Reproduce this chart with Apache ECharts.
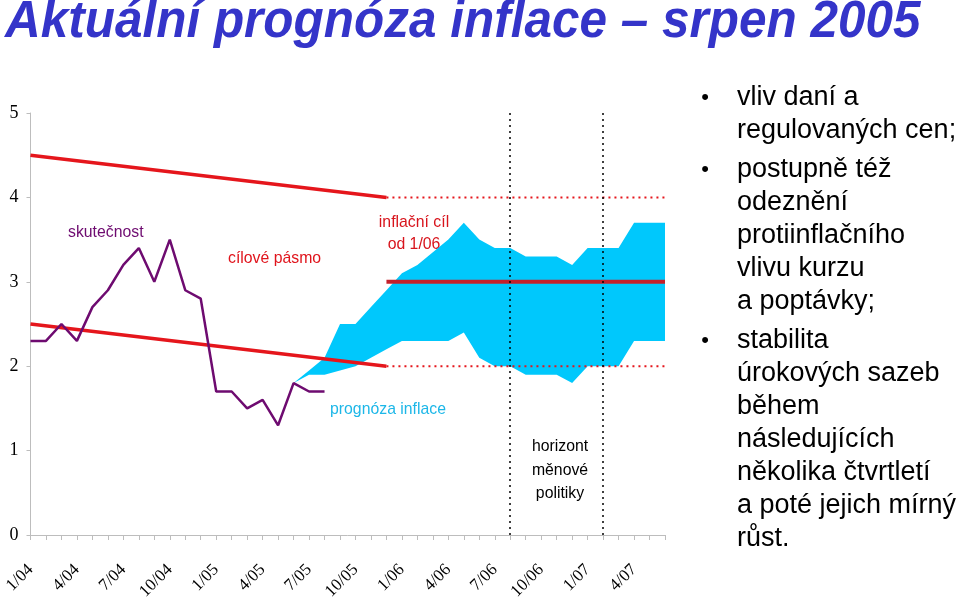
<!DOCTYPE html>
<html>
<head>
    <meta charset="UTF-8">
    <title>Aktuální prognóza inflace</title>
    <script src="https://cdn.jsdelivr.net/npm/echarts@6/dist/echarts.min.js"></script>
    <style>
        html, body { margin: 0; padding: 0; background: #fff; }
    </style>
</head>
<body>
    <div id="main" style="width: 960px; height: 599px;"></div>
    <script>
        // měsíce na ose x (1/04 .. 6/07)
        var months = [
            '1/04', '2/04', '3/04', '4/04', '5/04', '6/04', '7/04', '8/04', '9/04', '10/04', '11/04', '12/04',
            '1/05', '2/05', '3/05', '4/05', '5/05', '6/05', '7/05', '8/05', '9/05', '10/05', '11/05', '12/05',
            '1/06', '2/06', '3/06', '4/06', '5/06', '6/06', '7/06', '8/06', '9/06', '10/06', '11/06', '12/06',
            '1/07', '2/07', '3/07', '4/07', '5/07', '6/07'
        ];

        // skutečná inflace (od 1/04)
        var actual = [2.3, 2.3, 2.5, 2.3, 2.7, 2.9, 3.2, 3.4, 3.0, 3.5, 2.9, 2.8,
                      1.7, 1.7, 1.5, 1.6, 1.3, 1.8, 1.7, 1.7];

        // vějíř prognózy (od 6/05)
        var fanStart = '6/05';
        var fanLower = [1.8, 1.9, 1.9, 1.95, 2.0, 2.1, 2.2, 2.3, 2.3, 2.3, 2.3, 2.4,
                        2.1, 2.0, 2.0, 1.9, 1.9, 1.9, 1.8, 2.0, 2.0, 2.0, 2.3, 2.3, 2.3];
        var fanUpper = [1.8, 1.95, 2.1, 2.5, 2.5, 2.7, 2.9, 3.1, 3.2, 3.35, 3.5, 3.7,
                        3.5, 3.4, 3.4, 3.3, 3.3, 3.3, 3.2, 3.4, 3.4, 3.4, 3.7, 3.7, 3.7];

        // cílové pásmo a inflační cíl
        var bandUpper = [['1/04', 4.5], ['12/05', 4.0]];
        var bandLower = [['1/04', 2.5], ['12/05', 2.0]];
        var bandUpperAfter = [['12/05', 4.0], ['6/07', 4.0]];
        var bandLowerAfter = [['12/05', 2.0], ['6/07', 2.0]];
        var target = [['12/05', 3.0], ['6/07', 3.0]];

        // horizont měnové politiky
        var horizonMonths = ['8/06', '2/07'];

        // doplnění vějíře na délku osy
        var startIdx = months.indexOf(fanStart);
        var fanBase = [], fanWidth = [];
        months.forEach(function (m, i) {
            var k = i - startIdx;
            if (k >= 0 && k < fanLower.length) {
                fanBase.push(fanLower[k]);
                fanWidth.push(+(fanUpper[k] - fanLower[k]).toFixed(3));
            } else {
                fanBase.push(null);
                fanWidth.push(null);
            }
        });

        var myChart = echarts.init(document.getElementById('main'));

        var sans = 'Liberation Sans, Arial, sans-serif';
        var serif = 'Liberation Serif, Times New Roman, serif';
        var red = '#e5161c';

        // popisek v grafu (mírně zúžené písmo)
        function note(x, y, text, color, opts) {
            opts = opts || {};
            return {
                type: 'text', x: x, y: y, scaleX: 0.93,
                style: {
                    text: text, font: (opts.size || 17) + 'px ' + sans, fill: color,
                    lineHeight: opts.lineHeight || 22,
                    align: opts.align || 'left', verticalAlign: 'middle'
                }
            };
        }

        function bullet(y) {
            return { type: 'text', x: 705, y: y, style: { text: '•', font: '22px ' + sans, fill: '#000', align: 'center', verticalAlign: 'middle' } };
        }

        function para(y, text) {
            return { type: 'text', x: 737, y: y, style: { text: text, font: '27px ' + sans, lineHeight: 33, fill: '#000', verticalAlign: 'top' } };
        }

        var option = {
            animation: false,
            backgroundColor: '#fff',
            grid: { left: 30.5, right: 295, top: 113, bottom: 64, containLabel: false, outerBoundsMode: 'none' },
            xAxis: {
                type: 'category',
                data: months,
                boundaryGap: false,
                axisLine: { lineStyle: { color: '#bdbdbd', width: 1 } },
                axisTick: { show: true, interval: 0, length: 5, lineStyle: { color: '#bdbdbd' } },
                axisLabel: {
                    interval: 2,
                    rotate: 45,
                    margin: 32,
                    color: '#000',
                    fontFamily: serif,
                    fontSize: 17
                },
                splitLine: { show: false }
            },
            yAxis: {
                type: 'value',
                min: 0,
                max: 5,
                interval: 1,
                axisLine: { show: true, lineStyle: { color: '#bdbdbd', width: 1 } },
                axisTick: { show: true, length: 4, lineStyle: { color: '#bdbdbd' } },
                axisLabel: { color: '#000', fontFamily: serif, fontSize: 18, margin: 12 },
                splitLine: { show: false }
            },
            series: [
                {
                    // spodní hrana vějíře
                    type: 'line', stack: 'fan', data: fanBase,
                    symbol: 'none', lineStyle: { width: 0 }, silent: true
                },
                {
                    // šířka vějíře
                    type: 'line', stack: 'fan', data: fanWidth,
                    symbol: 'none', lineStyle: { width: 0 },
                    areaStyle: { color: '#00c8fc', opacity: 1 }, silent: true
                },
                {
                    type: 'line', data: bandUpper, symbol: 'none',
                    lineStyle: { color: red, width: 3.5 }
                },
                {
                    type: 'line', data: bandLower, symbol: 'none',
                    lineStyle: { color: red, width: 3.5 }
                },
                {
                    type: 'line', data: bandUpperAfter, symbol: 'none',
                    lineStyle: { color: red, width: 2, type: [2, 4] }
                },
                {
                    type: 'line', data: bandLowerAfter, symbol: 'none',
                    lineStyle: { color: red, width: 2, type: [2, 4] }
                },
                {
                    type: 'line', data: target, symbol: 'none',
                    lineStyle: { color: '#c4202b', width: 4 },
                    markLine: {
                        silent: true,
                        symbol: 'none',
                        label: { show: false },
                        lineStyle: { color: '#000', width: 1.5, type: [2, 4] },
                        data: horizonMonths.map(function (m) { return { xAxis: m }; })
                    }
                },
                {
                    type: 'line', data: actual, symbol: 'none',
                    lineStyle: { color: '#6e0b70', width: 2.5 }
                }
            ],
            graphic: [
                {
                    type: 'text', x: 5, y: 23, scaleX: 0.97,
                    style: {
                        text: 'Aktuální prognóza inflace – srpen 2005',
                        font: 'italic bold 51px ' + sans,
                        fill: '#3434c9', verticalAlign: 'middle'
                    }
                },
                note(68, 232, 'skutečnost', '#6e0b70'),
                note(228, 258, 'cílové pásmo', '#e0141c'),
                note(414, 233, 'inflační cíl\nod 1/06', '#d8141c', { align: 'center' }),
                note(330, 409, 'prognóza inflace', '#1db7e8'),
                note(560, 470, 'horizont\nměnové\npolitiky', '#000', { align: 'center', lineHeight: 23.5 }),
                bullet(98),
                bullet(170),
                bullet(341),
                para(81.5, 'vliv daní a\nregulovaných cen;'),
                para(153.5, 'postupně též\nodeznění\nprotiinflačního\nvlivu kurzu\na poptávky;'),
                para(324.5, 'stabilita\núrokových sazeb\nběhem\nnásledujících\nněkolika čtvrtletí\na poté jejich mírný\nrůst.')
            ]
        };

        myChart.setOption(option);
    </script>
</body>
</html>
